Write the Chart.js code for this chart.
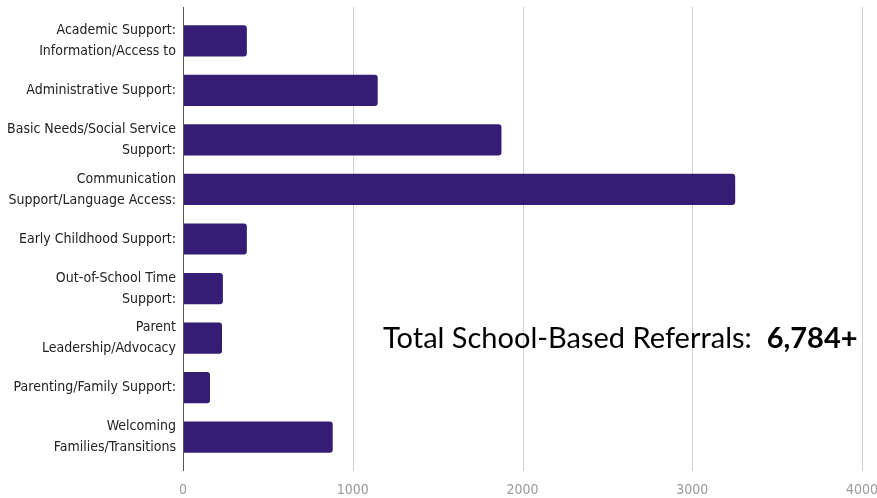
<!DOCTYPE html>
<html>
<head>
<meta charset="utf-8">
<script src="https://cdn.jsdelivr.net/npm/chart.js@4/dist/chart.umd.min.js"></script>
<style>
  html, body { margin: 0; padding: 0; background: #fff; }
  #wrap { position: relative; width: 877px; height: 498px; }
  #total {
    position: absolute; left: 383px; top: 319px;
    font-family: Lato, "Open Sans", sans-serif; font-size: 29px; color: #000;
    white-space: nowrap;
  }
  #total b { font-weight: bold; }
</style>
</head>
<body>
<div id="wrap">
  <canvas id="grafico"></canvas>
  <div id="total">Total School-Based Referrals:&nbsp; <b>6,784+</b></div>
</div>
<script>
// Datos del grafico
const categorias = [
    ['Academic Support:', 'Information/Access to'],
    'Administrative Support:',
    ['Basic Needs/Social Service', 'Support:'],
    ['Communication', 'Support/Language Access:'],
    'Early Childhood Support:',
    ['Out-of-School Time', 'Support:'],
    ['Parent', 'Leadership/Advocacy'],
    'Parenting/Family Support:',
    ['Welcoming', 'Families/Transitions']
];
const referencias = [376, 1147, 1876, 3253, 376, 235, 230, 159, 882];
const ticksX = [0, 1000, 2000, 3000, 4000];

const fuente = '"DejaVu Sans Condensed", Roboto, sans-serif';
const extra = 9; // las lineas sobresalen un poco del area

// Lineas de cuadricula un poco mas largas que el area de barras
const lineasPlugin = {
    id: 'lineas',
    beforeDatasetsDraw(chart) {
        const { ctx, chartArea, scales } = chart;
        ctx.save();
        ctx.strokeStyle = '#d0d0d0';
        ctx.lineWidth = 1;
        ticksX.forEach(v => {
            if (v === 0) return;
            const x = Math.round(scales.x.getPixelForValue(v)) + 0.5;
            ctx.beginPath();
            ctx.moveTo(x, chartArea.top - extra);
            ctx.lineTo(x, chartArea.bottom + extra);
            ctx.stroke();
        });
        ctx.restore();
    },
    afterDatasetsDraw(chart) {
        const { ctx, chartArea, scales } = chart;
        const x = Math.round(scales.x.getPixelForValue(0)) + 0.5;
        ctx.save();
        ctx.strokeStyle = '#555';
        ctx.lineWidth = 1;
        ctx.beginPath();
        ctx.moveTo(x, chartArea.top - extra);
        ctx.lineTo(x, chartArea.bottom + extra);
        ctx.stroke();
        ctx.restore();
    }
};

const canvas = document.getElementById('grafico');
canvas.width = 877;
canvas.height = 498;

new Chart(canvas.getContext('2d'), {
    type: 'bar',
    data: {
        labels: categorias,
        datasets: [{
            data: referencias,
            backgroundColor: '#351c75',
            borderRadius: 3,
            borderSkipped: 'start',
            barPercentage: 0.63,
            categoryPercentage: 1
        }]
    },
    options: {
        indexAxis: 'y',
        responsive: false,
        animation: false,
        layout: { padding: { top: 16, left: 0, right: 15, bottom: 0 } },
        plugins: { legend: { display: false }, tooltip: { enabled: false } },
        scales: {
            x: {
                min: 0,
                max: 4000,
                afterBuildTicks: s => { s.ticks = ticksX.map(v => ({ value: v })); },
                grid: { display: false, drawTicks: false },
                border: { display: false },
                ticks: {
                    padding: 20,
                    color: '#9a9a9a',
                    font: { family: fuente, size: 14 },
                    callback: v => String(v)
                },
                afterFit: s => { s.height = 36; s.paddingLeft = 0; s.paddingRight = 0; }
            },
            y: {
                grid: { display: false, drawTicks: false },
                border: { display: false },
                ticks: {
                    padding: 7,
                    color: '#222',
                    font: { family: fuente, size: 14, lineHeight: 1.5 }
                },
                afterFit: s => { s.width = 183; s.paddingTop = 0; s.paddingBottom = 0; }
            }
        }
    },
    plugins: [lineasPlugin]
});
</script>
</body>
</html>
